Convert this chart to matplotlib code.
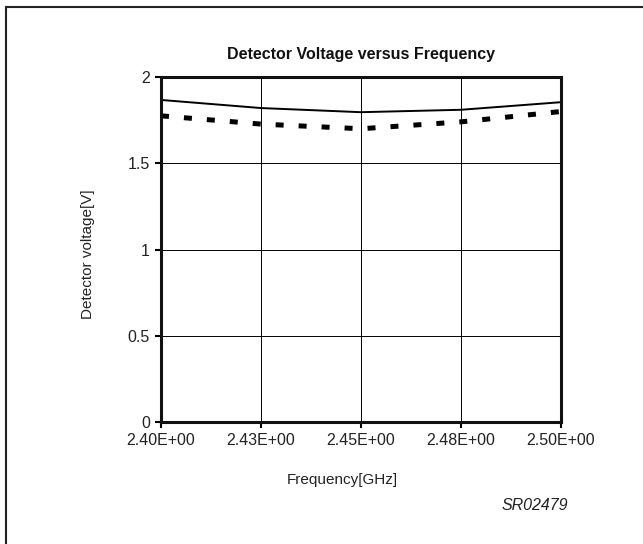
import matplotlib
matplotlib.use('agg')
from matplotlib import pyplot as plt
from matplotlib.patches import Rectangle

plt.rcParams['font.family'] = ['Liberation Sans', 'DejaVu Sans']

# data
freq = [2.400, 2.425, 2.450, 2.475, 2.500]
volt_solid = [1.867, 1.820, 1.796, 1.810, 1.854]
volt_dotted = [1.775, 1.727, 1.700, 1.740, 1.800]
x_ticks = [2.400, 2.425, 2.450, 2.475, 2.500]
x_labels = ['2.40E+00', '2.43E+00', '2.45E+00', '2.48E+00', '2.50E+00']
y_ticks = [0, 0.5, 1, 1.5, 2]
y_labels = ['0', '0.5', '1', '1.5', '2']

W, H = 643, 544
fig = plt.figure(figsize=(W / 100, H / 100), dpi=100)
fig.patches.append(Rectangle((6 / W, -0.1), 1.2, (H - 7) / H + 0.1,
                             transform=fig.transFigure, fill=False,
                             edgecolor='#222222', linewidth=1.5))

ax = fig.add_axes([161 / W, 122 / H, 400 / W, 345 / H])
ax.plot(freq, volt_solid, color='black', linewidth=1.4, solid_joinstyle='miter')
ax.plot(freq, volt_dotted, color='black', linewidth=3.6,
        dashes=(1.6, 3.0), dash_capstyle='butt')

ax.set_xlim(2.4, 2.5)
ax.set_ylim(0, 2)
ax.set_xticks(x_ticks)
ax.set_xticklabels(x_labels)
ax.set_yticks(y_ticks)
ax.set_yticklabels(y_labels)
ax.grid(True, color='black', linewidth=0.7)
for s in ax.spines.values():
    s.set_linewidth(2.2)
    s.set_color('#111111')
ax.tick_params(direction='out', length=4, width=1.5, labelsize=11.5,
               labelcolor='#222222', pad=4)

fig.text(361 / W, 1 - 55 / H, 'Detector Voltage versus Frequency', fontsize=11.5,
         fontweight='bold', ha='center', va='center', color='#111111')
fig.text(342 / W, 1 - 480 / H, 'Frequency[GHz]', fontsize=11,
         ha='center', va='center', color='#222222')
fig.text(88 / W, 1 - 254 / H, 'Detector voltage[V]', fontsize=11, rotation=90,
         ha='center', va='center', color='#222222')
fig.text(535 / W, 1 - 506 / H, 'SR02479', fontsize=11.5, style='italic',
         ha='center', va='center', color='#222222')

fig.savefig('out.png', dpi=100)
